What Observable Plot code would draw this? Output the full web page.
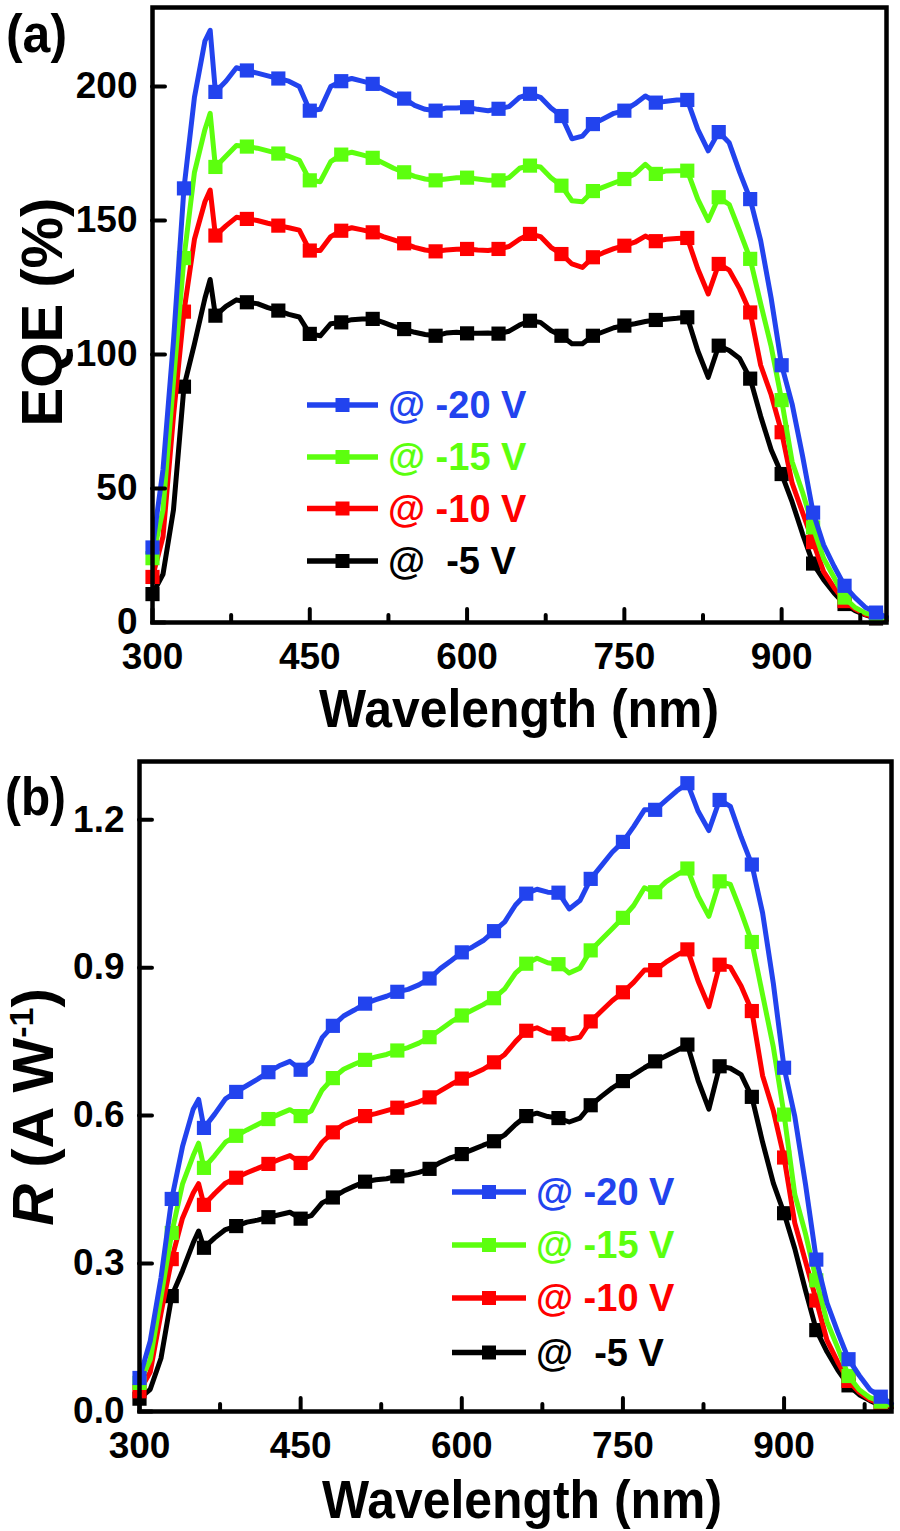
<!DOCTYPE html>
<html><head><meta charset="utf-8">
<script src="https://cdn.jsdelivr.net/npm/d3@7"></script>
<script src="https://cdn.jsdelivr.net/npm/@observablehq/plot@0.6"></script>
<style>
html,body{margin:0;padding:0;background:#fff;}
#chart{width:900px;height:1531px;position:relative;background:#fff;}
#chart svg{display:block;}
</style></head><body><div id="chart"></div>
<script>
// ---------- data ----------
const wavelength = [300,310,320,330,340,350,355,360,370,380,390,400,410,420,430,440,450,460,470,480,490,500,510,520,530,540,550,560,570,580,590,600,610,620,630,640,650,660,670,680,690,700,710,720,730,740,750,760,770,780,790,800,810,820,830,840,850,860,870,880,890,900,910,920,930,940,950,960,970,980,990,1000];

// EQE (%) at each bias
const eqeM20 = [28,57,105,162,196,217,221,198,202,207,206,205,204,203,202,200,191,191.5,200,202,203,202,201,199,197,195.5,193,191.5,191,192,192,192.3,191.5,191,191.7,192.5,196,197.3,196,192,189,180.5,181.5,186,188,190,191,193.5,196.5,194,194.5,195,195,184,176,183,179,168,158,142.5,121,96,81.5,62,41,29,21,13.7,9.3,5.6,3.7,2];
const eqeM15 = [24,42,90,136,168,184,190,170,174,178,177.6,177,176,175,174,172.5,165,164.5,172,174.6,175.5,174.5,173.4,171.5,169.5,168,166.5,165.5,165,165.5,166,166,165.5,165,165,166,169.5,170.5,170,166,163,157.4,157,161,162.5,164,165.5,167.4,171,167.4,168.5,168.6,168.6,158,150,158.7,156,146,135.7,119,103,83,60,48.5,35.5,24,16.8,9.3,5.6,3.5,2.5,1.5];
const eqeM10 = [17,32,77,116,143,157,161.4,144.4,148,151.2,150.6,150,149,148.1,147.3,146.4,138.8,138.8,144,146.2,147.3,146.5,145.6,144,142.8,141.5,140,139,138.5,139,139.3,139.4,139,138.8,139.4,140.3,143,145,144,140,137.5,133.8,132.5,136.3,138,139.5,140.6,141.9,144.2,142.3,143,143.3,143.5,132,122.6,133.8,131.5,124.5,115.7,96,85,71,52,41,30,19,13,8,5,3,2,1.2];
const eqeM5 = [10.6,18,42,88,104,121,128,114.5,118,120.4,119.5,119,117.5,116.4,115,114,107.7,107,111.5,112,113,113.3,113.3,112,110.5,109.5,108.3,107.5,107,108,108.3,107.9,107.9,108,107.8,108.7,111,112.6,112,109,107,104,104,107,108.5,110,110.8,111.5,112.3,112.9,113.2,113.5,113.9,101.4,91.5,103.3,101.5,98.5,91,77,64.5,55.4,45,33,22,16,11,6.9,4.4,2.8,1.5,1];

// Responsivity R (A/W) at each bias
const respM20 = [0.068,0.143,0.271,0.431,0.537,0.613,0.633,0.575,0.603,0.634,0.648,0.661,0.674,0.688,0.701,0.710,0.693,0.710,0.758,0.782,0.802,0.814,0.827,0.835,0.842,0.851,0.856,0.865,0.878,0.898,0.914,0.931,0.942,0.955,0.974,0.993,1.027,1.050,1.059,1.053,1.052,1.019,1.036,1.080,1.107,1.134,1.155,1.186,1.220,1.220,1.239,1.258,1.274,1.217,1.178,1.240,1.227,1.165,1.109,1.011,0.868,0.697,0.598,0.460,0.308,0.220,0.161,0.106,0.073,0.044,0.030,0.016];
const respM15 = [0.058,0.105,0.232,0.362,0.461,0.519,0.544,0.494,0.519,0.546,0.559,0.571,0.582,0.593,0.603,0.612,0.599,0.610,0.652,0.676,0.694,0.704,0.713,0.719,0.724,0.732,0.738,0.747,0.759,0.774,0.790,0.803,0.814,0.825,0.838,0.857,0.889,0.908,0.919,0.910,0.907,0.889,0.899,0.935,0.957,0.979,1.001,1.026,1.062,1.053,1.074,1.088,1.101,1.045,1.004,1.075,1.069,1.013,0.952,0.845,0.739,0.602,0.440,0.360,0.266,0.182,0.129,0.072,0.044,0.028,0.020,0.012];
const respM10 = [0.041,0.080,0.199,0.309,0.392,0.443,0.462,0.419,0.442,0.463,0.474,0.484,0.493,0.502,0.511,0.519,0.504,0.515,0.546,0.566,0.582,0.591,0.599,0.604,0.610,0.616,0.621,0.628,0.637,0.650,0.663,0.675,0.684,0.694,0.708,0.724,0.750,0.772,0.778,0.768,0.765,0.755,0.759,0.791,0.812,0.833,0.850,0.870,0.895,0.895,0.911,0.925,0.937,0.873,0.821,0.906,0.901,0.863,0.812,0.681,0.610,0.515,0.382,0.304,0.225,0.144,0.100,0.062,0.039,0.024,0.016,0.010];
const respM5 = [0.026,0.045,0.108,0.234,0.285,0.342,0.366,0.332,0.352,0.369,0.376,0.384,0.388,0.394,0.399,0.404,0.391,0.397,0.423,0.434,0.447,0.457,0.466,0.470,0.472,0.477,0.480,0.485,0.492,0.505,0.515,0.522,0.531,0.540,0.548,0.561,0.582,0.599,0.605,0.598,0.595,0.587,0.595,0.621,0.639,0.656,0.670,0.683,0.697,0.710,0.721,0.732,0.744,0.671,0.613,0.700,0.696,0.683,0.638,0.546,0.463,0.402,0.330,0.245,0.165,0.121,0.084,0.053,0.034,0.022,0.012,0.008];

const seriesLabels = ["@ -20 V", "@ -15 V", "@ -10 V", "@  -5 V"];
const seriesColors = ["#2243EE", "#5CFF0E", "#FF0000", "#000000"];

const xTicks = [300, 450, 600, 750, 900];
const xMinorTicks = [375, 525, 675, 825, 975];
const eqeTicks = [0, 50, 100, 150, 200];
const respTicks = [0, 0.3, 0.6, 0.9, 1.2];

// ---------- drawing ----------
const FONT = '"Liberation Sans", Arial, Helvetica, sans-serif';

function makePanel(cfg) {
  const {values, yDomain, yTicks, yFormat, height, margin} = cfg;
  const frameW = 900 - margin.left - margin.right;
  const frameH = height - margin.top - margin.bottom;
  const marks = [];
  for (let s = values.length - 1; s >= 0; s--) {
    const rows = wavelength.map((w, i) => ({w, v: values[s][i]}));
    const markerRows = rows.filter(d => (d.w - 300) % 30 === 0);
    marks.push(Plot.line(rows, {x: "w", y: "v", stroke: seriesColors[s], strokeWidth: 5, strokeLinejoin: "round", strokeLinecap: "round"}));
    marks.push(Plot.dot(markerRows, {x: "w", y: "v", symbol: "square", r: 8, fill: seriesColors[s], stroke: "none"}));
  }
  marks.push(Plot.tickX(xTicks, {x: d => d, insetTop: frameH - 13, stroke: "black", strokeWidth: 4, strokeLinecap: "round"}));
  marks.push(Plot.tickX(xMinorTicks, {x: d => d, insetTop: frameH - 7, stroke: "black", strokeWidth: 4, strokeLinecap: "round"}));
  marks.push(Plot.tickY(yTicks, {y: d => d, insetRight: frameW - 13, stroke: "black", strokeWidth: 4, strokeLinecap: "round"}));
  marks.push(Plot.frame({stroke: "black", strokeWidth: 4.5}));
  marks.push(Plot.axisX({ticks: xTicks, tickSize: 0, tickPadding: 20, tickFormat: d => String(d), label: null, fontSize: 37, fontWeight: "bold"}));
  marks.push(Plot.axisY({ticks: yTicks, tickSize: 0, tickPadding: 15, tickFormat: yFormat, label: null, fontSize: 37, fontWeight: "bold"}));
  return Plot.plot({
    width: 900, height,
    marginLeft: margin.left, marginRight: margin.right, marginTop: margin.top, marginBottom: margin.bottom,
    x: {domain: [300, 1000], label: null},
    y: {domain: yDomain, label: null},
    style: {fontFamily: FONT, fontWeight: "bold", fontSize: "37px", color: "black", background: "white", overflow: "visible"},
    marks
  });
}

function addLegend(svg, leg) {
  const g = d3.select(svg).append("g").attr("font-family", FONT).attr("font-weight", "bold").attr("text-anchor", "start");
  seriesLabels.forEach((lab, i) => {
    const y = leg.rows[i];
    g.append("line").attr("x1", leg.x0).attr("x2", leg.x1).attr("y1", y).attr("y2", y)
      .attr("stroke", seriesColors[i]).attr("stroke-width", 5.5);
    g.append("rect").attr("x", (leg.x0 + leg.x1) / 2 - 7).attr("y", y - 7).attr("width", 14).attr("height", 14)
      .attr("fill", seriesColors[i]);
    g.append("text").attr("x", leg.x1 + 10).attr("y", y + 13).attr("font-size", 38).attr("text-anchor", "start")
      .attr("fill", seriesColors[i]).style("white-space", "pre").text(lab);
  });
}

function addTitles(svg, t) {
  const g = d3.select(svg).append("g").attr("font-family", FONT).attr("font-weight", "bold").attr("fill", "black");
  g.append("text").attr("x", t.xTitle[0]).attr("y", t.xTitle[1]).attr("text-anchor", "middle")
    .attr("font-size", 54).attr("textLength", 400).attr("lengthAdjust", "spacingAndGlyphs").text("Wavelength (nm)");
  g.append("text").attr("x", t.letter[0]).attr("y", t.letter[1]).attr("font-size", 54).attr("text-anchor", "start")
    .attr("textLength", 61).attr("lengthAdjust", "spacingAndGlyphs").text(t.letterText);
  const yt = g.append("text").attr("transform", `translate(${t.yTitle[0]},${t.yTitle[1]}) rotate(-90)`)
    .attr("text-anchor", "middle").attr("font-size", 58);
  t.yTitleParts(yt);
}

const chart = document.getElementById("chart");

// Panel (a): EQE
const svgA = makePanel({
  values: [eqeM20, eqeM15, eqeM10, eqeM5],
  yDomain: [0, 229.5], yTicks: eqeTicks, yFormat: d => String(d),
  height: 745, margin: {left: 152, right: 14, top: 7, bottom: 123}
});
addLegend(svgA, {x0: 307, x1: 378, rows: [405, 457, 508.5, 561]});
addTitles(svgA, {
  xTitle: [519, 727], letter: [6, 52], letterText: "(a)", yTitle: [62, 312],
  yTitleParts: t => t.text("EQE (%)")
});
chart.appendChild(svgA);

// Panel (b): responsivity
const svgB = makePanel({
  values: [respM20, respM15, respM10, respM5],
  yDomain: [0, 1.318], yTicks: respTicks, yFormat: d => d.toFixed(1),
  height: 786, margin: {left: 139, right: 9, top: 16, bottom: 120}
});
addLegend(svgB, {x0: 452, x1: 526, rows: [447, 500, 553, 607.5]});
addTitles(svgB, {
  xTitle: [522, 773], letter: [5, 70], letterText: "(b)", yTitle: [53, 362],
  yTitleParts: t => {
    t.append("tspan").attr("font-style", "italic").text("R");
    t.append("tspan").style("white-space", "pre").text(" (A W");
    t.append("tspan").attr("font-size", 34).attr("dy", -20).text("-1");
    t.append("tspan").attr("dy", 20).text(")");
  }
});
chart.appendChild(svgB);
</script>
</body></html>
